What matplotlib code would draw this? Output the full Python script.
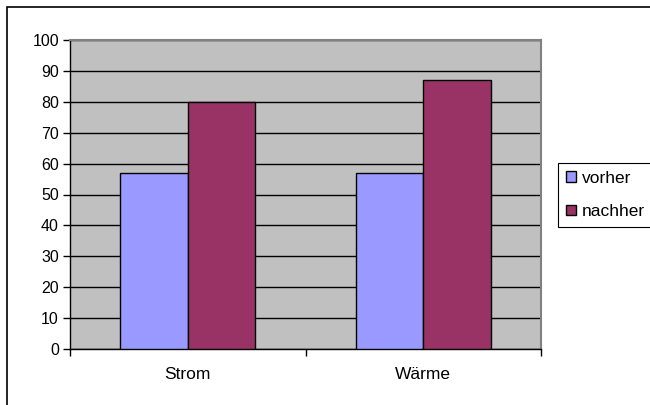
import matplotlib.pyplot as plt
from matplotlib.patches import Rectangle
import numpy as np

plt.rcParams['font.family'] = ['Liberation Sans', 'DejaVu Sans']

# Daten
categories = ["Strom", "Wärme"]
series_names = ["vorher", "nachher"]
vorher = [57, 57]
nachher = [80, 87]
colors = ["#9999FF", "#993366"]

fig = plt.figure(figsize=(6.5, 4.05), dpi=100)
ax = fig.add_axes([70 / 650, 1 - 349 / 405, 471 / 650, 309 / 405])

# Rahmen um das gesamte Diagramm (rechts/unten ausserhalb des Bildes)
fig.patches.append(Rectangle((7 / 650, -0.1), 1.2, 1 - 7 / 405 + 0.1,
                             transform=fig.transFigure, fill=False,
                             edgecolor="black", linewidth=1.2))

x = np.arange(len(categories))
width = 0.287
ax.bar(x - width / 2, vorher, width, color=colors[0], edgecolor="black",
       linewidth=1, label=series_names[0], zorder=3)
ax.bar(x + width / 2, nachher, width, color=colors[1], edgecolor="black",
       linewidth=1, label=series_names[1], zorder=3)

ax.set_facecolor("#C0C0C0")
ax.set_xlim(-0.5, len(categories) - 0.5)
ax.set_ylim(0, 100)
ax.set_yticks(range(0, 101, 10))
ax.yaxis.grid(True, color="black", linewidth=1, zorder=1)
ax.set_axisbelow(True)

ax.set_xticks(x)
ax.set_xticklabels(categories, fontsize=12.5)
ax.set_xticks(np.arange(-0.5, len(categories), 1), minor=True)
ax.tick_params(axis="x", which="major", length=0, pad=13)
ax.tick_params(axis="x", which="minor", length=5, direction="out", width=1)
ax.tick_params(axis="y", length=5, direction="out", width=1, labelsize=11.5, pad=3)

for side in ["top", "right"]:
    ax.spines[side].set_color("#808080")
    ax.spines[side].set_linewidth(1.5)
for side in ["left", "bottom"]:
    ax.spines[side].set_color("black")
    ax.spines[side].set_linewidth(1)

leg = fig.legend(loc="upper left", bbox_to_anchor=(558 / 650, 1 - 163 / 405),
                 fontsize=12.5, frameon=True, fancybox=False, framealpha=1,
                 edgecolor="black", handlelength=0.575, handleheight=0.575,
                 handletextpad=0.35, borderpad=0.45, labelspacing=1.05,
                 borderaxespad=0)
leg.get_frame().set_linewidth(0.8)

fig.savefig("out.png", dpi=100)
